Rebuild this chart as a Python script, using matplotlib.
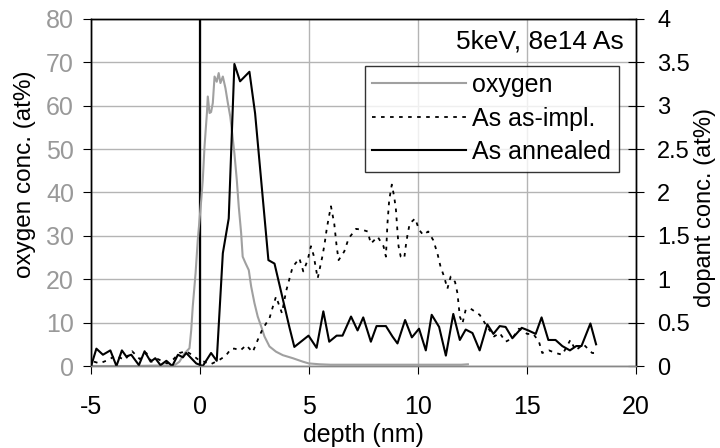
import matplotlib
matplotlib.use("Agg")
import matplotlib.pyplot as plt
from matplotlib.ticker import FuncFormatter

plt.rcParams['font.family'] = ['Liberation Sans', 'DejaVu Sans']
plt.rcParams['axes.unicode_minus'] = False

# oxygen profile (left axis, at%)
ox_depth = [-5.0, -4.0, -3.0, -2.0, -1.5, -1.15, -0.93, -0.7, -0.47, -0.39, -0.32, -0.19,
            -0.09, 0.07, 0.14, 0.22, 0.33, 0.37, 0.45, 0.52, 0.60, 0.68, 0.78, 0.87, 0.95,
            1.06, 1.18, 1.29, 1.40, 1.49, 1.59, 1.70, 1.79, 1.90, 1.97, 2.10, 2.25, 2.36,
            2.51, 2.66, 2.82, 2.97, 3.20, 3.50, 3.81, 4.27, 4.73, 5.0, 5.5, 6.0, 7.0, 8.0,
            9.0, 10.0, 11.0, 12.0, 12.3]
ox_val = [0.0, 0.0, 0.0, 0.1, 0.1, 0.2, 1.0, 2.9, 4.1, 8.3, 13.7, 21.4,
          29.0, 38.3, 42.9, 50.6, 58.3, 62.1, 58.3, 58.5, 60.6, 66.7, 65.5, 67.5, 65.2,
          66.7, 64.0, 60.6, 57.5, 53.6, 49.0, 42.9, 36.7, 30.6, 25.2, 23.7, 22.1, 18.3,
          14.5, 11.4, 9.1, 6.8, 4.5, 3.3, 2.5, 1.8, 1.0, 0.6, 0.4, 0.3, 0.3, 0.3,
          0.3, 0.3, 0.3, 0.3, 0.4]

# As as-implanted (right axis, at%)
impl_depth = [-4.85, -4.59, -4.2, -3.85, -3.44, -3.1, -2.75, -2.45, -2.2, -1.92, -1.5, -1.2,
              -0.93, -0.62, -0.3, -0.05, 0.2, 0.5, 0.9, 1.2, 1.44, 1.6, 1.87, 2.13, 2.43,
              2.66, 2.89, 3.2, 3.35, 3.5, 3.77, 3.96, 4.26, 4.57, 4.75, 4.95, 5.10, 5.22,
              5.41, 5.64, 5.74, 5.82, 5.91, 6.02, 6.17, 6.28, 6.37, 6.63, 6.83, 7.17, 7.45,
              7.70, 7.85, 8.16, 8.43, 8.54, 8.61, 8.69, 8.81, 8.92, 9.0, 9.07, 9.12, 9.22,
              9.38, 9.45, 9.53, 9.63, 9.88, 10.06, 10.25, 10.48, 10.71, 10.90, 11.05, 11.21,
              11.36, 11.51, 11.71, 11.82, 11.93, 12.05, 12.20, 12.43, 12.84, 13.19, 13.50,
              13.76, 14.03, 14.34, 14.64, 15.02, 15.3, 15.56, 15.71, 16.02, 16.32, 16.63,
              17.0, 17.24, 17.6, 18.0, 18.2]
impl_val = [0.05, 0.03, 0.07, 0.12, 0.07, 0.17, 0.08, 0.15, 0.05, 0.08, 0.03, 0.08,
            0.15, 0.17, 0.12, 0.07, 0.05, 0.02, 0.07, 0.12, 0.20, 0.20, 0.18, 0.24, 0.16,
            0.30, 0.43, 0.55, 0.68, 0.80, 0.61, 0.86, 1.14, 1.24, 1.09, 1.22, 1.38, 1.28,
            1.01, 1.28, 1.43, 1.57, 1.70, 1.84, 1.64, 1.38, 1.22, 1.32, 1.47, 1.58, 1.57,
            1.55, 1.41, 1.49, 1.38, 1.26, 1.64, 1.91, 2.09, 1.95, 1.80, 1.55, 1.38, 1.26,
            1.24, 1.38, 1.51, 1.64, 1.70, 1.57, 1.51, 1.55, 1.45, 1.30, 1.14, 1.03,
            0.89, 1.03, 0.97, 0.84, 0.57, 0.49, 0.65, 0.66, 0.59, 0.45, 0.34,
            0.38, 0.28, 0.32, 0.43, 0.37, 0.37, 0.28, 0.15, 0.18, 0.15, 0.13,
            0.30, 0.18, 0.25, 0.15, 0.15]

# As annealed (right axis, at%)
ann_depth = [-4.97, -4.74, -4.44, -4.10, -3.82, -3.57, -3.37, -3.14, -2.79, -2.53, -2.25,
             -2.04, -1.80, -1.53, -1.26, -1.00, -0.77, -0.62, -0.39, -0.16, 0.14, 0.52,
             0.78, 1.06, 1.33, 1.59, 1.85, 2.28, 2.54, 3.15, 3.43, 4.11, 4.34, 4.99, 5.36,
             5.67, 5.94, 6.28, 6.55, 6.94, 7.24, 7.50, 7.85, 8.11, 8.54, 8.84, 9.07, 9.42,
             9.73, 10.06, 10.37, 10.64, 10.98, 11.29, 11.63, 11.93, 12.20, 12.51, 12.84,
             13.19, 13.47, 13.76, 14.03, 14.34, 14.77, 15.07, 15.41, 15.68, 15.99, 16.32,
             16.63, 16.98, 17.27, 17.51, 17.92, 18.18]
ann_val = [0.01, 0.20, 0.13, 0.18, 0.00, 0.18, 0.11, 0.13, 0.01, 0.17, 0.05,
           0.09, 0.01, 0.06, 0.00, 0.13, 0.10, 0.15, 0.09, 0.03, 0.00, 0.15,
           0.06, 1.30, 1.70, 3.48, 3.28, 3.39, 2.91, 1.22, 1.18, 0.45, 0.22, 0.35, 0.21,
           0.63, 0.28, 0.35, 0.35, 0.57, 0.41, 0.56, 0.28, 0.46, 0.46, 0.34, 0.26, 0.53,
           0.33, 0.43, 0.18, 0.59, 0.45, 0.12, 0.60, 0.30, 0.42, 0.38, 0.18,
           0.48, 0.37, 0.46, 0.45, 0.32, 0.44, 0.41, 0.37, 0.56, 0.30, 0.30,
           0.23, 0.18, 0.23, 0.23, 0.49, 0.25]

x_ticks = [-5, 0, 5, 10, 15, 20]
left_ticks = [0, 10, 20, 30, 40, 50, 60, 70, 80]
right_ticks = [0, 0.5, 1, 1.5, 2, 2.5, 3, 3.5, 4]

fs = 18
fig = plt.figure(figsize=(7.2, 4.48), dpi=100)
ax = fig.add_axes([0.126, 0.183, 0.757, 0.775])
ax2 = ax.twinx()

ax.set_xlim(-5, 20)
ax.set_ylim(0, 80)
ax2.set_ylim(0, 4)
ax.set_xticks(x_ticks)
ax.set_yticks(left_ticks)
ax2.set_yticks(right_ticks)
ax2.yaxis.set_major_formatter(FuncFormatter(lambda v, p: f"{v:g}"))

ax.grid(True, color='#b4b4b4', linewidth=1.0)
ax.set_axisbelow(True)
ax.axvline(0, color='black', linewidth=1.6, zorder=1.5)

l_ox, = ax.plot(ox_depth, ox_val, color='#a0a0a0', linewidth=1.5, label='oxygen')
l_impl, = ax2.plot(impl_depth, impl_val, color='black', linewidth=1.3,
                   linestyle=(0, (2, 3)), label='As as-impl.')
l_ann, = ax2.plot(ann_depth, ann_val, color='black', linewidth=1.5, label='As annealed')

ax.tick_params(axis='y', direction='out', length=6, colors='black',
               labelcolor='#999999', labelsize=fs, pad=6)
ax.tick_params(axis='x', direction='out', length=6, labelsize=fs, pad=15)
ax2.tick_params(axis='y', direction='inout', length=11, labelsize=17, pad=10)

for a in (ax, ax2):
    for s in a.spines.values():
        s.set_color('black')
        s.set_linewidth(1.0)
    a.spines['bottom'].set_color('#888888')

ax.set_xlabel('depth (nm)', fontsize=fs, labelpad=3)
ax.set_ylabel('oxygen conc. (at%)', fontsize=17.5)
ax.yaxis.set_label_coords(-0.1, 0.553)
ax2.set_ylabel('dopant conc. (at%)', fontsize=17)
ax2.yaxis.set_label_coords(1.107, 0.457)

ax2.text(0.978, 0.934, '5keV, 8e14 As', transform=ax2.transAxes, ha='right',
         va='center', fontsize=19)

leg = ax2.legend(handles=[l_ox, l_impl, l_ann], loc='upper right',
                 bbox_to_anchor=(0.969, 0.865), fontsize=fs, frameon=True,
                 fancybox=False, handlelength=3.75, labelspacing=0.38,
                 borderpad=0.3, handletextpad=0.25, borderaxespad=0)
leg.get_frame().set_edgecolor('black')
leg.get_frame().set_linewidth(1.0)

fig.savefig('out.png', dpi=100)
